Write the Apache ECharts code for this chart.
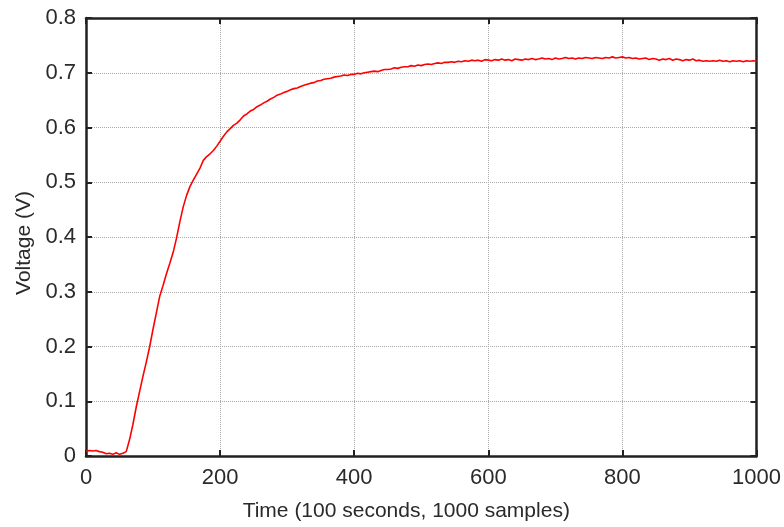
<!DOCTYPE html>
<html>
<head>
<meta charset="utf-8">
<script src="https://cdn.jsdelivr.net/npm/echarts@6/dist/echarts.min.js"></script>
<style>
  html, body { margin: 0; padding: 0; background: #fff; }
  #container { width: 784px; height: 527px; }
</style>
</head>
<body>
<div id="container"></div>
<script>
// one reading every 5 samples
let sampleStep = 5
let voltage = [
    0.008, 0.010, 0.009, 0.010, 0.008, 0.007, 0.004, 0.005, 0.003, 0.006,
    0.003, 0.005, 0.008, 0.030, 0.058, 0.090, 0.118, 0.146, 0.172, 0.200,
    0.232, 0.262, 0.292, 0.312, 0.333, 0.352, 0.372, 0.398, 0.428, 0.455,
    0.476, 0.492, 0.504, 0.515, 0.526, 0.540, 0.547, 0.552, 0.558, 0.566,
    0.575, 0.584, 0.592, 0.598, 0.604, 0.608, 0.614, 0.621, 0.625, 0.630,
    0.633, 0.638, 0.641, 0.645, 0.648, 0.652, 0.655, 0.659, 0.661, 0.664,
    0.666, 0.669, 0.671, 0.672, 0.675, 0.677, 0.679, 0.681, 0.682, 0.685,
    0.686, 0.688, 0.689, 0.690, 0.692, 0.693, 0.694, 0.696, 0.695, 0.697,
    0.697, 0.699, 0.698, 0.700, 0.701, 0.702, 0.703, 0.702, 0.704, 0.706,
    0.706, 0.707, 0.709, 0.708, 0.710, 0.711, 0.711, 0.713, 0.712, 0.714,
    0.713, 0.715, 0.716, 0.715, 0.717, 0.718, 0.717, 0.719, 0.719, 0.720,
    0.719, 0.721, 0.720, 0.722, 0.721, 0.723, 0.722, 0.723, 0.721, 0.724,
    0.723, 0.722, 0.724, 0.723, 0.725, 0.723, 0.724, 0.722, 0.725, 0.724,
    0.723, 0.725, 0.724, 0.726, 0.724, 0.725, 0.727, 0.725, 0.726, 0.724,
    0.727, 0.725, 0.726, 0.728, 0.726, 0.727, 0.725, 0.727, 0.726, 0.728,
    0.727, 0.726, 0.728, 0.727, 0.726, 0.728, 0.727, 0.729, 0.727, 0.728,
    0.729, 0.727, 0.728, 0.726, 0.727, 0.725, 0.726, 0.727, 0.724, 0.726,
    0.725, 0.723, 0.725, 0.724, 0.726, 0.723, 0.725, 0.724, 0.722, 0.724,
    0.723, 0.725, 0.722, 0.723, 0.721, 0.722, 0.721, 0.722, 0.721, 0.723,
    0.721, 0.722, 0.720, 0.722, 0.721, 0.722, 0.720, 0.722, 0.721, 0.722,
    0.721
]
let xTicks = [0, 200, 400, 600, 800, 1000]
let yTicks = [0, 0.1, 0.2, 0.3, 0.4, 0.5, 0.6, 0.7, 0.8]

let dataLine = []
for (let i = 0; i < voltage.length; i++) {
    dataLine.push([i * sampleStep, voltage[i]])
}

let textColor = '#2a2a2a'
let fontFamily = '"Liberation Sans", Arial, sans-serif'
let gridLine = {show: true, lineStyle: {color: '#aaa', type: 'dotted', width: 1}}
let frameLine = {show: true, onZero: false, lineStyle: {color: '#222', width: 2.5}}
let tick = {show: true, inside: true, length: 6, lineStyle: {color: '#222', width: 2}}

let option = {
    animation: false,
    backgroundColor: '#fff',
    grid: {left: 86, right: 27, top: 18, bottom: 70},
    xAxis: [
        {
            type: 'value', min: xTicks[0], max: xTicks[xTicks.length - 1], interval: 200,
            name: 'Time (100 seconds, 1000 samples)', nameLocation: 'middle', nameGap: 45,
            nameTextStyle: {fontSize: 21, color: textColor, fontFamily: fontFamily, padding: [0, 30, 0, 0]},
            axisLine: frameLine,
            axisTick: tick,
            axisLabel: {
                fontSize: 22, color: textColor, fontFamily: fontFamily, margin: 11,
                formatter: function (v) { return String(v) }
            },
            splitLine: gridLine
        },
        {
            type: 'value', position: 'top', min: 0, max: 1000, interval: 200,
            axisLine: frameLine,
            axisTick: tick,
            axisLabel: {show: false},
            splitLine: {show: false}
        }
    ],
    yAxis: [
        {
            type: 'value', min: yTicks[0], max: yTicks[yTicks.length - 1], interval: 0.1,
            name: 'Voltage (V)', nameLocation: 'middle', nameGap: 48,
            nameTextStyle: {fontSize: 21, color: textColor, fontFamily: fontFamily, padding: [0, 12, 0, 0]},
            axisLine: frameLine,
            axisTick: tick,
            axisLabel: {
                fontSize: 22, color: textColor, fontFamily: fontFamily, margin: 10,
                formatter: function (v) { return v === 0 ? '0' : v.toFixed(1) }
            },
            splitLine: gridLine
        },
        {
            type: 'value', position: 'right', min: 0, max: 0.8, interval: 0.1,
            axisLine: frameLine,
            axisTick: tick,
            axisLabel: {show: false},
            splitLine: {show: false}
        }
    ],
    series: [
        {
            type: 'line',
            data: dataLine,
            showSymbol: false,
            lineStyle: {color: '#ff0000', width: 1.6},
            z: 5
        }
    ]
};
var myChart = echarts.init(document.getElementById('container'));
myChart.setOption(option);
</script>
</body>
</html>
